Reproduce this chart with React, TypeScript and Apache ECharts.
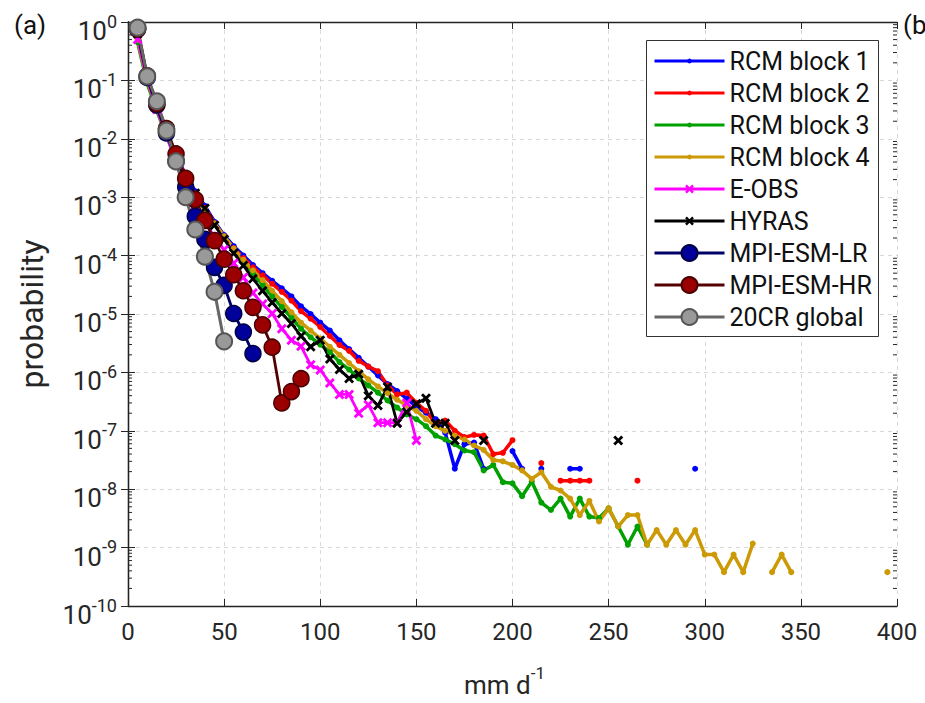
import React, { useEffect, useRef } from "react";
import * as echarts from "echarts";

// rainfall bins (mm/d)
const bins = [
  5, 10, 15, 20, 25, 30, 35, 40, 45, 50, 55, 60, 65, 70, 75, 80, 85, 90, 95, 100,
  105, 110, 115, 120, 125, 130, 135, 140, 145, 150, 155, 160, 165, 170, 175, 180, 185, 190, 195, 200,
  205, 210, 215, 220, 225, 230, 235, 240, 245, 250, 255, 260, 265, 270, 275, 280, 285, 290, 295, 300,
  305, 310, 315, 320, 325, 330, 335, 340, 345, 350, 355, 360, 365, 370, 375, 380, 385, 390, 395, 400,
];

const rcm1 = [
  0.56, 0.105, 0.0355, 0.0132, 5.2e-3, 2.4e-3, 1.26e-3, 7.1e-4, 3.8e-4, 2.24e-4,
  1.45e-4, 1.0e-4, 6.9e-5, 5.0e-5, 3.7e-5, 2.75e-5, 2.0e-5, 1.35e-5, 1.0e-5, 7.1e-6,
  5.2e-6, 3.55e-6, 2.5e-6, 1.78e-6, 1.26e-6, 8.9e-7, 6.3e-7, 4.8e-7, 3.55e-7, 2.6e-7,
  2.04e-7, 1.58e-7, 9.3e-8, 2.24e-8, 5.9e-8, 6.3e-8, 2.24e-8, null, null, 4.5e-8,
  2.24e-8, null, 2.24e-8, null, null, 2.24e-8, 2.24e-8, null, null, null,
  null, null, null, null, null, null, null, null, 2.24e-8,
];

const rcm2 = [
  0.54, 0.105, 0.0347, 0.0126, 5.0e-3, 2.3e-3, 1.17e-3, 6.6e-4, 3.6e-4, 2.14e-4,
  1.35e-4, 9.1e-5, 6.3e-5, 4.6e-5, 3.3e-5, 2.4e-5, 1.7e-5, 1.12e-5, 8.3e-6, 6.0e-6,
  4.2e-6, 2.95e-6, 2.34e-6, 1.58e-6, 1.26e-6, 1.05e-6, 6.0e-7, 4.2e-7, 4.5e-7, 3.0e-7,
  2.2e-7, 1.32e-7, 1.5e-7, 1.0e-7, 7.8e-8, 8.5e-8, 8.3e-8, 4.0e-8, 4.2e-8, 6.9e-8,
  null, null, 2.8e-8, null, 1.4e-8, 1.4e-8, 1.4e-8, 1.4e-8, null, null,
  null, null, 1.4e-8,
];

const rcm3 = [
  0.45, 0.089, 0.03, 0.0112, 4.5e-3, 2.0e-3, 1.0e-3, 6.0e-4, 3.5e-4, 2.1e-4,
  1.26e-4, 7.9e-5, 5.0e-5, 3.16e-5, 2.0e-5, 1.32e-5, 8.7e-6, 5.6e-6, 4.0e-6, 3.0e-6,
  2.24e-6, 1.5e-6, 1.12e-6, 7.9e-7, 6.0e-7, 4.5e-7, 3.3e-7, 2.5e-7, 1.9e-7, 1.58e-7,
  1.2e-7, 8.3e-8, 7.1e-8, 5.9e-8, 4.6e-8, 4.3e-8, 2.1e-8, 2.6e-8, 1.32e-8, 1.26e-8,
  7.6e-9, 1.35e-8, 5.9e-9, 4.4e-9, 6.9e-9, 3.4e-9, 6.9e-9, 3.4e-9, 3.2e-9, 4.7e-9,
  2.3e-9, 1.12e-9, 2.3e-9, 1.12e-9,
];

const rcm4 = [
  0.5, 0.1, 0.033, 0.012, 4.8e-3, 2.14e-3, 1.1e-3, 6.3e-4, 3.55e-4, 2.14e-4,
  1.32e-4, 8.5e-5, 5.6e-5, 3.8e-5, 2.5e-5, 1.66e-5, 1.07e-5, 7.1e-6, 5.2e-6, 3.8e-6,
  2.75e-6, 2.0e-6, 1.45e-6, 1.05e-6, 7.6e-7, 5.75e-7, 4.4e-7, 3.4e-7, 2.7e-7, 2.2e-7,
  1.58e-7, 1.2e-7, 1.0e-7, 8.3e-8, 7.1e-8, 5.6e-8, 4.7e-8, 3.16e-8, 3.0e-8, 2.6e-8,
  2.1e-8, 1.5e-8, 1.95e-8, 1.1e-8, 9.5e-9, 6.9e-9, 3.6e-9, 6.3e-9, 2.8e-9, 4.7e-9,
  2.3e-9, 3.6e-9, 3.6e-9, 1.12e-9, 2.0e-9, 1.12e-9, 2.0e-9, 1.12e-9, 2.0e-9, 7.6e-10,
  7.6e-10, 3.8e-10, 7.6e-10, 3.8e-10, 1.17e-9, null, 3.8e-10, 7.6e-10, 3.8e-10, null,
  null, null, null, null, null, null, null, null, 3.8e-10,
];

const eobs = [
  0.5, 0.1, 0.0316, 0.0112, 4.0e-3, 1.58e-3, 7.1e-4, 3.7e-4, 2.1e-4, 1.26e-4,
  7.4e-5, 4.2e-5, 2.3e-5, 1.48e-5, 1.02e-5, 5.6e-6, 3.55e-6, 2.8e-6, 1.35e-6, 1.1e-6,
  6.6e-7, 4.2e-7, 4.2e-7, 2.0e-7, 2.8e-7, 1.38e-7, 1.38e-7, 1.38e-7, 3.0e-7, 6.8e-8,
];

const hyras = [
  0.63, 0.112, 0.0355, 0.0126, 5.0e-3, 2.24e-3, 1.17e-3, 6.5e-4, 3.3e-4, 1.9e-4,
  1.1e-4, 6.8e-5, 4.0e-5, 2.5e-5, 1.58e-5, 1.02e-5, 6.9e-6, 4.2e-6, 2.75e-6, 3.55e-6,
  1.7e-6, 1.12e-6, 7.9e-7, 9.3e-7, 4.0e-7, 2.7e-7, 5.6e-7, 1.35e-7, 2.1e-7, 2.9e-7,
  3.6e-7, 1.35e-7, 1.35e-7, 6.8e-8, null, null, 6.8e-8, null, null, null,
  null, null, null, null, null, null, null, null, null, null,
  6.8e-8,
];

const mpiLR = [
  0.76, 0.112, 0.038, 0.0126, 4.2e-3, 1.5e-3, 4.7e-4, 1.9e-4, 6.3e-5, 3.1e-5,
  1.02e-5, 4.9e-6, 2.1e-6,
];

const mpiHR = [
  0.76, 0.12, 0.04, 0.015, 5.5e-3, 2.1e-3, 9.1e-4, 4.0e-4, 1.8e-4, 8.7e-5,
  4.7e-5, 2.5e-5, 1.3e-5, 6.5e-6, 2.7e-6, 3.0e-7, 4.7e-7, 7.8e-7,
];

const cr20 = [0.8, 0.117, 0.044, 0.0138, 4.1e-3, 1.0e-3, 2.8e-4, 9.6e-5, 2.4e-5, 3.4e-6];

const xTicks = [0, 400, 50]; // min, max, interval
// lower bound a hair above 1e-10 so the log scale uses one-decade steps
const yRange = [1.0001e-10, 1];

const FONT = "Roboto";
const TXT = "#262626";
const XMARK =
  "path://M2,0 L5,3 L8,0 L10,2 L7,5 L10,8 L8,10 L5,7 L2,10 L0,8 L3,5 L0,2 Z";

function toData(vals: (number | null)[]) {
  return vals.map((v, i) => [bins[i], v == null ? "-" : v]);
}

function minorTicks() {
  const out: number[][] = [];
  for (let e = -10; e < 0; e++) {
    for (let m = 2; m <= 9; m++) out.push([0, m * Math.pow(10, e)]);
  }
  return out;
}

export default function App() {
  const ref = useRef<HTMLDivElement>(null);

  useEffect(() => {
    if (!ref.current) return;
    const chart = echarts.init(ref.current, null, { renderer: "svg" });

    const lineSeries = (
      name: string,
      vals: (number | null)[],
      color: string,
      opts: any
    ) => ({
      name,
      type: "line",
      xAxisIndex: 0,
      yAxisIndex: 0,
      data: toData(vals),
      connectNulls: false,
      showSymbol: true,
      symbol: opts.symbol || "circle",
      symbolSize: opts.symbolSize || 6,
      lineStyle: { color: opts.lineColor || color, width: opts.width || 3.5 },
      itemStyle: {
        color,
        borderColor: opts.borderColor || color,
        borderWidth: opts.borderWidth || 0,
      },
      emphasis: { disabled: true },
      z: 2,
    });

    const legendBase = {
      orient: "vertical",
      left: 653,
      itemWidth: 70,
      itemGap: 0,
      padding: 0,
      selectedMode: false,
      lineStyle: { width: 3 },
      textStyle: { fontSize: 25, fontFamily: FONT, color: "#111", lineHeight: 32 },
      z: 5,
    };

    const axisLineStyle = { color: "#222", width: 1.3 };

    chart.setOption({
      animation: false,
      backgroundColor: "#ffffff",
      textStyle: { fontFamily: FONT },
      grid: { left: 128, top: 22, width: 769, height: 590, containLabel: false },
      xAxis: [
        {
          type: "value",
          min: xTicks[0],
          max: xTicks[1],
          interval: xTicks[2],
          position: "bottom",
          axisLine: { show: true, lineStyle: axisLineStyle },
          axisTick: { show: true, inside: true, length: 7, lineStyle: { color: TXT } },
          axisLabel: { fontSize: 24, color: TXT, fontFamily: FONT, margin: 14 },
          splitLine: { show: true, lineStyle: { color: "#d8d8d8", type: [4, 4], width: 1 } },
          name: "{b|mm d}{s|-1}",
          nameLocation: "middle",
          nameGap: 58,
          nameTextStyle: {
            color: TXT,
            padding: [0, 16, 0, 0],
            rich: {
              b: { fontSize: 26, fontFamily: FONT, color: TXT, lineHeight: 34, verticalAlign: "bottom" },
              s: { fontSize: 17, fontFamily: FONT, color: TXT, lineHeight: 17, verticalAlign: "top" },
            },
          },
        },
        {
          type: "value",
          min: xTicks[0],
          max: xTicks[1],
          interval: xTicks[2],
          position: "top",
          axisLine: { show: true, lineStyle: axisLineStyle },
          axisTick: { show: true, inside: true, length: 7, lineStyle: { color: TXT } },
          axisLabel: { show: false },
          splitLine: { show: false },
        },
      ],
      yAxis: [
        {
          type: "log",
          logBase: 10,
          min: yRange[0],
          max: yRange[1],
          position: "left",
          axisLine: { show: true, lineStyle: axisLineStyle },
          axisTick: { show: true, inside: true, length: 7, lineStyle: { color: TXT } },
          axisLabel: {
            margin: 11,
            padding: [12, 0, 0, 0],
            formatter: (v: number) => "{b|10}{s|" + Math.round(Math.log10(v)) + "}",
            rich: {
              b: { fontSize: 26, fontFamily: FONT, color: TXT, lineHeight: 32, verticalAlign: "bottom" },
              s: { fontSize: 18, fontFamily: FONT, color: TXT, lineHeight: 18, verticalAlign: "top" },
            },
          },
          splitLine: { show: true, lineStyle: { color: "#d8d8d8", type: [4, 4], width: 1 } },
          name: "probability",
          nameLocation: "middle",
          nameGap: 80,
          nameTextStyle: { fontSize: 32, fontFamily: FONT, color: TXT },
        },
        {
          type: "log",
          logBase: 10,
          min: yRange[0],
          max: yRange[1],
          position: "right",
          axisLine: { show: true, lineStyle: axisLineStyle },
          axisTick: { show: true, inside: true, length: 7, lineStyle: { color: TXT } },
          axisLabel: { show: false },
          splitLine: { show: false },
        },
      ],
      legend: [
        {
          ...legendBase,
          top: 45,
          itemHeight: 6,
          data: ["RCM block 1", "RCM block 2", "RCM block 3", "RCM block 4"],
        },
        {
          ...legendBase,
          top: 173,
          itemHeight: 11,
          data: ["E-OBS", "HYRAS"],
        },
        {
          ...legendBase,
          top: 237,
          itemHeight: 20,
          data: ["MPI-ESM-LR", "MPI-ESM-HR", "20CR global"],
        },
      ],
      graphic: [
        {
          type: "rect",
          z: 3,
          shape: { x: 646.5, y: 40.5, width: 232, height: 296 },
          style: { fill: "#ffffff", stroke: "#333333", lineWidth: 1 },
        },
        {
          type: "text",
          left: 14,
          top: 12,
          style: { text: "(a)", fontSize: 26, fontFamily: FONT, fill: "#111" },
        },
        {
          type: "text",
          left: 903,
          top: 12,
          style: { text: "(b", fontSize: 26, fontFamily: FONT, fill: "#111" },
        },
      ],
      series: [
        {
          type: "custom",
          name: "minorTicks",
          xAxisIndex: 0,
          yAxisIndex: 0,
          data: minorTicks(),
          silent: true,
          z: 1,
          renderItem: (params: any, api: any) => {
            const p = api.coord([0, api.value(1)]);
            const cs = params.coordSys;
            const st = { stroke: TXT, lineWidth: 1 };
            return {
              type: "group",
              children: [
                { type: "line", shape: { x1: cs.x, y1: p[1], x2: cs.x + 4, y2: p[1] }, style: st },
                {
                  type: "line",
                  shape: { x1: cs.x + cs.width, y1: p[1], x2: cs.x + cs.width - 4, y2: p[1] },
                  style: st,
                },
              ],
            };
          },
        },
        lineSeries("RCM block 1", rcm1, "#0000ff", {}),
        lineSeries("RCM block 2", rcm2, "#ff0000", {}),
        lineSeries("RCM block 3", rcm3, "#00a000", {}),
        lineSeries("RCM block 4", rcm4, "#cc9a06", {}),
        lineSeries("E-OBS", eobs, "#ff00ff", { symbol: XMARK, symbolSize: 10, width: 2.8 }),
        lineSeries("HYRAS", hyras, "#000000", { symbol: XMARK, symbolSize: 10, width: 2.8 }),
        lineSeries("MPI-ESM-LR", mpiLR, "#00009a", {
          symbolSize: 16,
          lineColor: "#000066",
          borderColor: "#000045",
          borderWidth: 1.5,
          width: 2.8,
        }),
        lineSeries("MPI-ESM-HR", mpiHR, "#9a0000", {
          symbolSize: 16,
          lineColor: "#550000",
          borderColor: "#4a0000",
          borderWidth: 1.5,
          width: 2.8,
        }),
        lineSeries("20CR global", cr20, "#999999", {
          symbolSize: 16,
          lineColor: "#666666",
          borderColor: "#555555",
          borderWidth: 2,
          width: 3,
        }),
      ],
    });

    return () => chart.dispose();
  }, []);

  return (
    <div
      ref={ref}
      style={{ position: "absolute", left: 0, top: 0, width: 925, height: 703, background: "#fff" }}
    />
  );
}
